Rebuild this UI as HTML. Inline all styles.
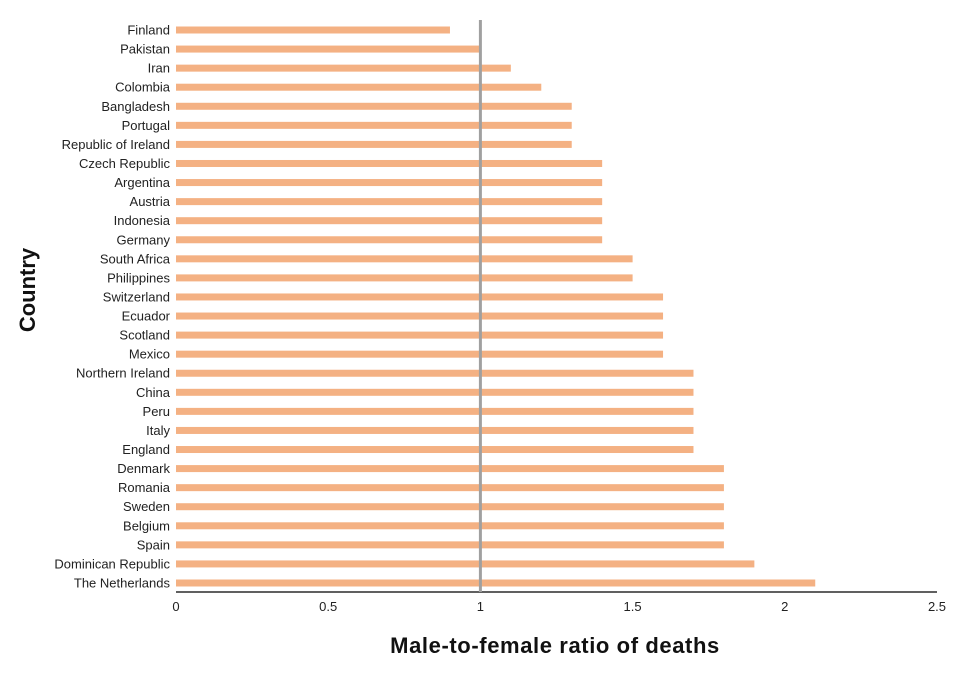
<!DOCTYPE html>
<html><head><meta charset="utf-8"><style>
html,body{margin:0;padding:0;background:#fff;}
svg{display:block;font-family:"Liberation Sans",sans-serif;}
</style></head><body>
<svg id="chart" width="980" height="678">
<g id="bars"></g>
<g id="labels"></g>
<g id="ticks"></g>
<line x1="176" y1="592" x2="937" y2="592" stroke="#000" stroke-width="1.2"/>
<line id="refline" y1="20" y2="592" stroke="#a0a0a0" stroke-width="3"/>
<text x="555" y="653" text-anchor="middle" font-size="22" font-weight="bold" letter-spacing="0.6" fill="#111">Male-to-female ratio of deaths</text>
<text transform="translate(35,290) rotate(-90)" text-anchor="middle" font-size="22" font-weight="bold" fill="#111">Country</text>
</svg>
<script>
const countries=["Finland","Pakistan","Iran","Colombia","Bangladesh","Portugal","Republic of Ireland","Czech Republic","Argentina","Austria","Indonesia","Germany","South Africa","Philippines","Switzerland","Ecuador","Scotland","Mexico","Northern Ireland","China","Peru","Italy","England","Denmark","Romania","Sweden","Belgium","Spain","Dominican Republic","The Netherlands"];
const ratios=[0.9,1.0,1.1,1.2,1.3,1.3,1.3,1.4,1.4,1.4,1.4,1.4,1.5,1.5,1.6,1.6,1.6,1.6,1.7,1.7,1.7,1.7,1.7,1.8,1.8,1.8,1.8,1.8,1.9,2.1];
const tickValues=[0,0.5,1,1.5,2,2.5];
const tickLabels=["0","0.5","1","1.5","2","2.5"];
const refValue=1;
const ns="http://www.w3.org/2000/svg";
const x=v=>176+(937-176)*v/2.5;
const y=i=>30+i*(583-30)/(countries.length-1);
const bars=document.getElementById('bars'),labels=document.getElementById('labels'),ticks=document.getElementById('ticks');
countries.forEach((c,i)=>{
 const r=document.createElementNS(ns,'rect');
 r.setAttribute('x',x(0));r.setAttribute('y',y(i)-3.5);
 r.setAttribute('width',x(ratios[i])-x(0));r.setAttribute('height',7);
 r.setAttribute('fill','#f4b183');
 
 
 bars.appendChild(r);
 const t=document.createElementNS(ns,'text');
 t.setAttribute('x',170);t.setAttribute('y',y(i)+4.5);
 t.setAttribute('text-anchor','end');t.setAttribute('font-size','13');t.setAttribute('fill','#222');
 t.textContent=c;
 
 
 labels.appendChild(t);
});
tickValues.forEach((v,i)=>{
 const t=document.createElementNS(ns,'text');
 t.setAttribute('x',x(v));t.setAttribute('y',611);
 t.setAttribute('text-anchor','middle');t.setAttribute('font-size','13');t.setAttribute('fill','#222');
 t.textContent=tickLabels[i];
 
 
 ticks.appendChild(t);
});
const rl=document.getElementById('refline');
rl.setAttribute('x1',x(refValue));rl.setAttribute('x2',x(refValue));
</script>
</body></html>
